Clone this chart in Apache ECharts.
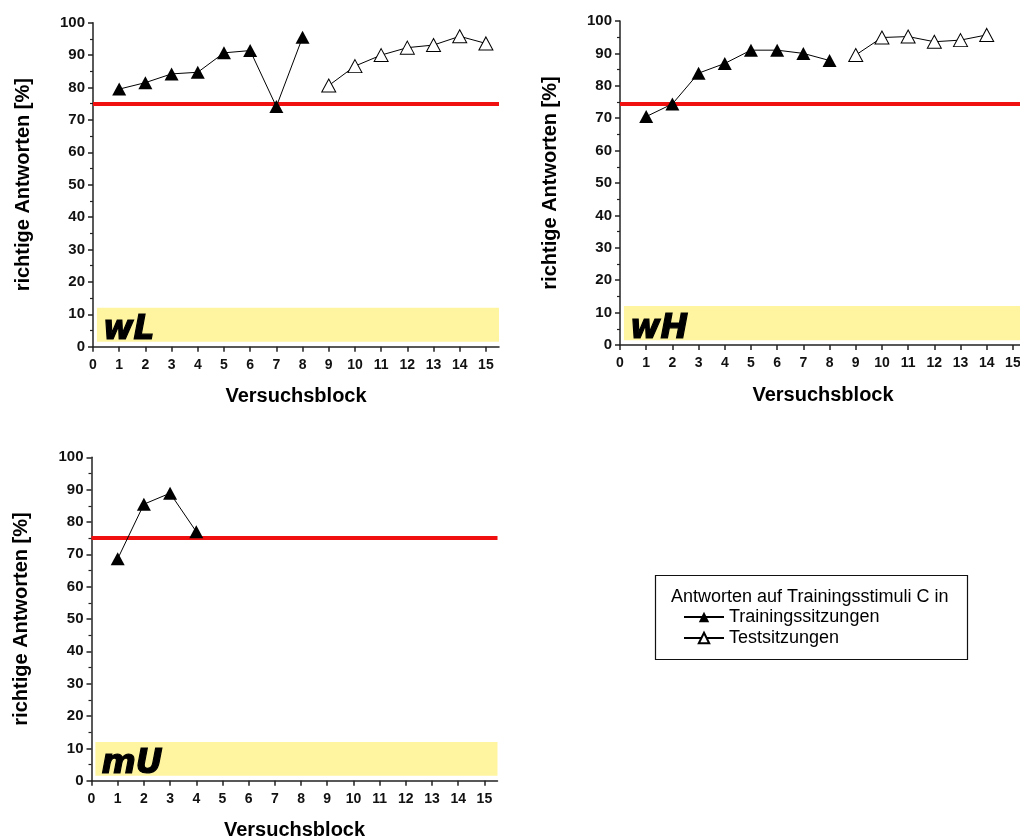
<!DOCTYPE html>
<html>
<head>
<meta charset="utf-8">
<script src="https://cdn.jsdelivr.net/npm/echarts@6/dist/echarts.min.js"></script>
<style>
html,body{margin:0;padding:0;background:#fff;}
#chart{width:1020px;height:837px;}
</style>
</head>
<body>
<div id="chart"></div>
<script>
// ---- data ----
const panelNames = ['wL', 'wH', 'mU'];
const xTickValues = [0,1,2,3,4,5,6,7,8,9,10,11,12,13,14,15];
const threshold = [75, 74.5, 75];

const wLTrainX = [1,2,3,4,5,6,7,8];
const wLTrainY = [79.5, 81.5, 84.2, 84.7, 90.7, 91.4, 74.1, 95.5];
const wLTestX  = [9,10,11,12,13,14,15];
const wLTestY  = [80.6, 86.6, 90.0, 92.3, 93.1, 95.8, 93.6];

const wHTrainX = [1,2,3,4,5,6,7,8];
const wHTrainY = [70.5, 74.4, 83.9, 86.9, 91.0, 91.0, 90.0, 87.8];
const wHTestX  = [9,10,11,12,13,14];
const wHTestY  = [89.5, 94.9, 95.2, 93.6, 94.1, 95.7];

const mUTrainX = [1,2,3,4];
const mUTrainY = [68.6, 85.5, 88.9, 77.0];

const trainName = 'Trainingssitzungen';
const testName = 'Testsitzungen';
const legendTitle = 'Antworten auf Trainingsstimuli C in';
const yName = 'richtige Antworten [%]';
const xName = 'Versuchsblock';

// ---- build ----
const FONT = '"Liberation Sans", Arial, sans-serif';
const pair = (xs, ys) => xs.map((x, i) => [x, ys[i]]);

const grids = [
  {left: 93, top: 22.7, width: 406, height: 324},
  {left: 620, top: 21, width: 406, height: 324},
  {left: 91.5, top: 457.3, width: 406, height: 323.4}
].map(g => Object.assign({outerBoundsMode: 'none', containLabel: false}, g));

const xAxes = grids.map((g, i) => ({
  gridIndex: i, type: 'value', min: 0, max: 15.5,
  name: xName, nameLocation: 'middle', nameGap: 40,
  nameTextStyle: {fontFamily: FONT, fontWeight: 'bold', fontSize: 20, color: '#000'},
  axisLine: {show: true, onZero: false, lineStyle: {color: '#222', width: 1.5}},
  axisTick: {show: true, customValues: xTickValues, length: 5, lineStyle: {color: '#222', width: 1.5}},
  axisLabel: {customValues: xTickValues, margin: 11, fontFamily: FONT, fontWeight: 'bold', fontSize: 14, color: '#111'},
  splitLine: {show: false}
}));

const yAxes = grids.map((g, i) => ({
  gridIndex: i, type: 'value', min: 0, max: 100, interval: 10,
  name: yName, nameLocation: 'middle', nameGap: 60, nameRotate: 90,
  nameTextStyle: {fontFamily: FONT, fontWeight: 'bold', fontSize: 20, color: '#000'},
  axisLine: {show: true, lineStyle: {color: '#222', width: 1.5}},
  axisTick: {show: true, length: 5, lineStyle: {color: '#222', width: 1.5}},
  minorTick: {show: true, splitNumber: 2, length: 3, lineStyle: {color: '#222', width: 1.2}},
  axisLabel: {margin: 8, fontFamily: FONT, fontWeight: 'bold', fontSize: 15, color: '#111'},
  splitLine: {show: false}
}));

const trainData = [pair(wLTrainX, wLTrainY), pair(wHTrainX, wHTrainY), pair(mUTrainX, mUTrainY)];
const testData = [pair(wLTestX, wLTestY), pair(wHTestX, wHTestY), null];

const series = [];
for (let i = 0; i < 3; i++) {
  series.push({
    name: trainName, type: 'line', xAxisIndex: i, yAxisIndex: i,
    data: trainData[i], symbol: 'triangle', symbolSize: [14, 13],
    itemStyle: {color: '#000'},
    lineStyle: {color: '#000', width: 1},
    z: 5,
    markArea: {
      silent: true,
      itemStyle: {color: '#fff5a0'},
      label: {show: true, position: 'insideLeft', distance: 6, offset: [0, 6],
        fontFamily: '"DejaVu Sans", sans-serif', fontWeight: 'bold', fontStyle: 'italic',
        fontSize: 33, color: '#000', textBorderColor: '#000', textBorderWidth: 1.2,
        formatter: panelNames[i]},
      data: [[{xAxis: 0.15, yAxis: 1.5}, {xAxis: 15.7, yAxis: 12}]]
    },
    markLine: {
      silent: true, symbol: 'none', label: {show: false},
      lineStyle: {color: '#f01010', width: 4, type: 'solid'},
      data: [{yAxis: threshold[i]}]
    }
  });
  series.push({
    name: testName, type: 'line', xAxisIndex: i, yAxisIndex: i,
    data: testData[i] || [], symbol: 'triangle', symbolSize: [14, 13],
    itemStyle: {color: '#fff', borderColor: '#000', borderWidth: 1},
    lineStyle: {color: '#000', width: 1},
    z: 5
  });
}

const option = {
  animation: false,
  backgroundColor: '#fff',
  grid: grids,
  xAxis: xAxes,
  yAxis: yAxes,
  legend: {
    data: [trainName, testName],
    orient: 'vertical', left: 683, top: 608, padding: 0,
    itemWidth: 40, itemHeight: 13, itemGap: 3,
    textStyle: {fontFamily: FONT, fontSize: 18, color: '#000'},
    selectedMode: false
  },
  graphic: [
    {type: 'rect', left: 653, top: 573, shape: {width: 312, height: 84},
      style: {fill: 'none', stroke: '#111', lineWidth: 1.2}},
    {type: 'text', left: 671, top: 588,
      style: {text: legendTitle, font: '18px "Liberation Sans", Arial, sans-serif', fill: '#000'}}
  ],
  series: series
};

const chart = echarts.init(document.getElementById('chart'), null, {renderer: 'canvas'});
chart.setOption(option);
</script>
</body>
</html>
